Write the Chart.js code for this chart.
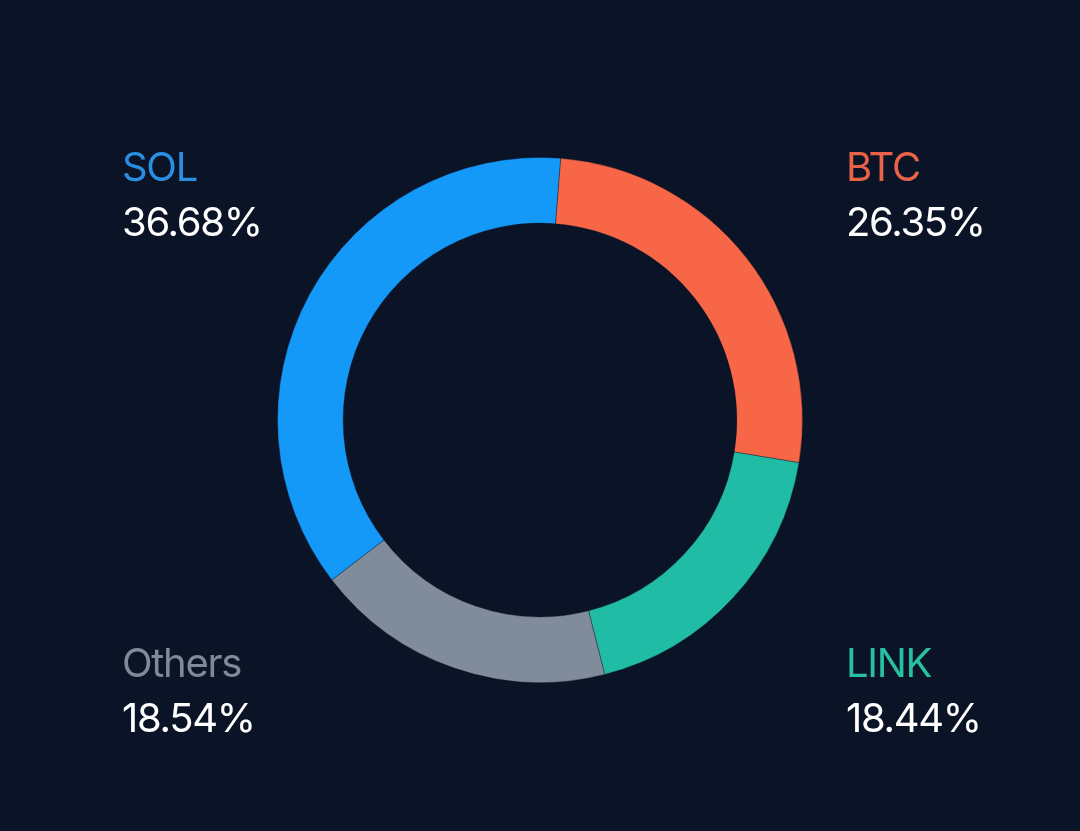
<!DOCTYPE html>
<html>
<head>
<meta charset="utf-8">
<script src="https://cdn.jsdelivr.net/npm/chart.js@4/dist/chart.umd.min.js"></script>
<style>
  html, body { margin: 0; padding: 0; background: #0b1426; }
  #wrap { width: 1080px; height: 831px; position: relative; }
</style>
</head>
<body>
<div id="wrap"><canvas id="mycanvas"></canvas></div>
<script>
var labels = ['BTC', 'LINK', 'Others', 'SOL'];
var shares = [26.35, 18.44, 18.54, 36.68];
var percentText = ['26.35%', '18.44%', '18.54%', '36.68%'];

var sliceColors = ['#f76646', '#21bca5', '#818c9a', '#1499f9'];
var labelColors = ['#ea6248', '#28bfa2', '#7f8997', '#2a8fe2'];

// where each label sits: [x, baseline of name]
var corners = [[846, 181], [846, 677], [122, 677], [122, 181]];

var cornerLabels = {
	id: 'cornerLabels',
	afterDraw: function(chart){
		var ctx = chart.ctx;
		ctx.save();
		ctx.textAlign = 'left';
		ctx.textBaseline = 'alphabetic';
		ctx.font = '400 40px Inter, "Noto Sans", sans-serif';
		ctx.letterSpacing = '-1.3px';
		for (var i = 0; i < labels.length; i++) {
			ctx.fillStyle = labelColors[i];
			ctx.fillText(labels[i], corners[i][0], corners[i][1]);
			ctx.fillStyle = '#ffffff';
			ctx.fillText(percentText[i], corners[i][0], corners[i][1] + 55);
		}
		ctx.restore();
	}
};

var ctx = document.getElementById('mycanvas');

var donut = new Chart(ctx, {
	type: 'doughnut',
	data: {
		labels: labels,
		datasets: [{
			data: shares,
			backgroundColor: sliceColors,
			borderColor: 'rgba(11,20,38,0.35)',
			borderWidth: 1
		}]
	},
	options: {
		responsive: true,
		maintainAspectRatio: false,
		animation: false,
		cutout: '75%',
		rotation: 4.5,
		layout: { padding: { top: 157, bottom: 148, left: 0, right: 0 } },
		plugins: {
			legend: { display: false },
			tooltip: { enabled: false }
		}
	},
	plugins: [cornerLabels]
});
</script>
</body>
</html>
